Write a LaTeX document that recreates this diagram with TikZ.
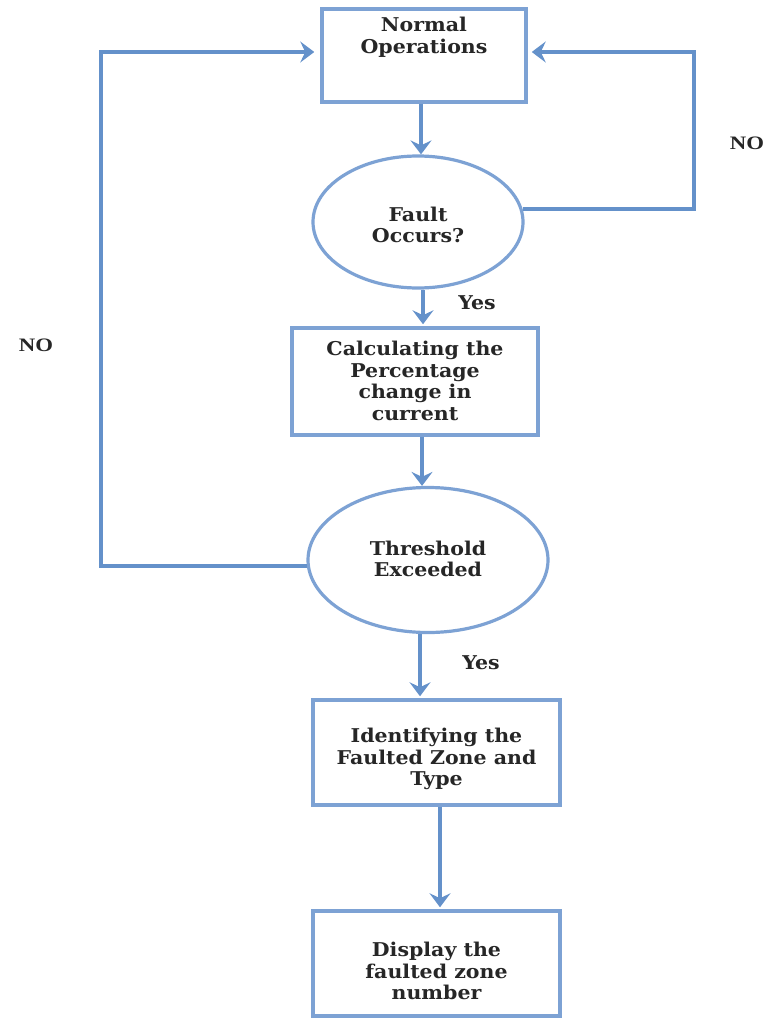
\documentclass[tikz,border=0pt]{standalone}
\usepackage{fontspec}
\setmainfont{DejaVu Serif}[FakeStretch=1.08]
\newfontfamily\nofont{Liberation Serif}[FakeStretch=1.2]
\usetikzlibrary{shapes.geometric,arrows.meta}
\definecolor{arrowc}{RGB}{100,145,202}
\definecolor{boxc}{RGB}{125,162,212}
\tikzset{
  box/.style={draw=boxc, line width=3.5pt, rectangle, inner sep=0pt, fill=white},
  oval/.style={draw=boxc, line width=3.2pt, ellipse, inner sep=0pt, fill=white},
  txt/.style={font=\fontsize{19}{21.8}\selectfont\bfseries, align=center, inner sep=0pt, text=black!85},
  lbl/.style={font=\fontsize{19}{21}\selectfont\bfseries, inner sep=0pt, text=black!85},
  nolbl/.style={font=\nofont\fontsize{19}{21}\selectfont\bfseries, inner sep=0pt, text=black!85},
  conn/.style={draw=arrowc, line width=4pt},
  arr/.style={conn, -{Stealth[length=14pt,width=21pt,inset=5pt]}},
}
\begin{document}
\begin{tikzpicture}[x=1pt,y=-1pt]
\useasboundingbox (0,0) rectangle (770,1019);
% shapes
\node[box, minimum width=204pt, minimum height=93pt] (b1) at (424,55.5) {};
\node[txt] (b1t) at (424,37) {Normal\\Operations};
\node[oval, minimum width=210pt, minimum height=132pt] (e1) at (418,222) {};
\node[txt] (e1t) at (418,225) {Fault\\Occurs?};
\node[box, minimum width=246pt, minimum height=107pt] (b2) at (415,381.5) {};
\node[txt] (b2t) at (415,381) {Calculating the\\Percentage\\change in\\current};
\node[oval, minimum width=240pt, minimum height=145pt] (e2) at (428,560) {};
\node[txt] (e2t) at (428,559) {Threshold\\Exceeded};
\node[box, minimum width=247pt, minimum height=105pt] (b3) at (436.5,752.5) {};
\node[txt] (b3t) at (436.5,759) {Identifying the\\Faulted Zone and\\Type};
\node[box, minimum width=247pt, minimum height=105pt] (b4) at (436.5,963.5) {};
\node[txt] (b4t) at (436.5,971) {Display the\\faulted zone\\number};
% labels
\node[lbl] (y1) at (477,303) {Yes};
\node[lbl] (y2) at (481,663) {Yes};
\node[nolbl] (n1) at (747,143) {NO};
\node[nolbl] (n2) at (36,345) {NO};
% loop corners
\coordinate (r2) at (694,52);
\coordinate (l2) at (101,52);
% connectors
\draw[arr] (b1.south -| 421,0) -- (e1.north -| 421,0);
\draw[arr, shorten >=2pt] (e1.south -| 423,0) -- (b2.north -| 423,0);
\draw[arr] (b2.south -| 422,0) -- (e2.north -| 422,0);
\draw[arr, shorten >=2pt] (e2.south -| 420,0) -- (b3.north -| 420,0);
\draw[arr, shorten >=2pt] (b3.south -| 440,0) -- (b4.north -| 440,0);
\draw[arr, shorten >=4pt] (e1.7) -| (r2) -- (b1.east |- r2);
\draw[arr, shorten >=6pt] (e2.183) -| (l2) -- (b1.west |- l2);
\end{tikzpicture}
\end{document}
